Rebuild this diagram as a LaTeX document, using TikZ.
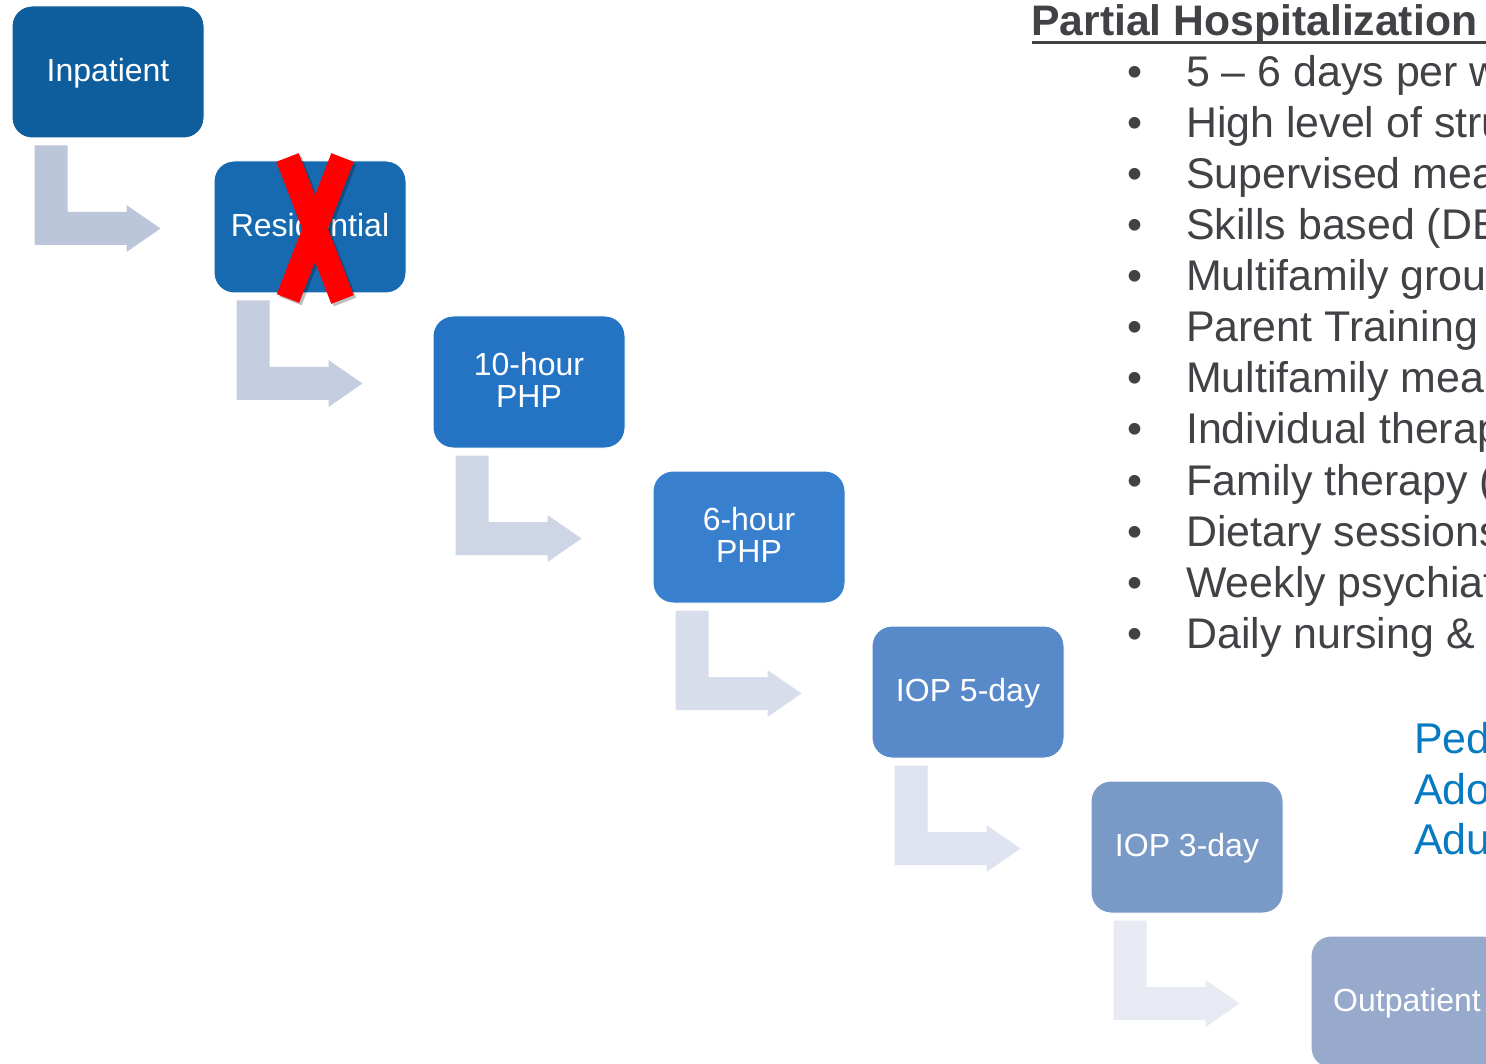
\documentclass[tikz,border=0pt]{standalone}
\usepackage{fontspec}
\setmainfont{Liberation Sans}
\usetikzlibrary{calc}

% level-of-care box fills, darkest (most intensive) first
\definecolor{lvlA}{RGB}{14,94,157}
\definecolor{lvlB}{RGB}{23,106,176}
\definecolor{lvlC}{RGB}{36,116,195}
\definecolor{lvlD}{RGB}{56,128,205}
\definecolor{lvlE}{RGB}{88,138,202}
\definecolor{lvlF}{RGB}{121,153,199}
\definecolor{lvlG}{RGB}{151,170,203}
% step-down arrow fills, fading out
\definecolor{arrA}{RGB}{188,198,219}
\definecolor{arrB}{RGB}{197,205,224}
\definecolor{arrC}{RGB}{206,213,229}
\definecolor{arrD}{RGB}{215,221,235}
\definecolor{arrE}{RGB}{223,227,239}
\definecolor{arrF}{RGB}{231,234,243}
\definecolor{bodytext}{RGB}{64,66,70}
\definecolor{agetext}{RGB}{8,122,193}

\begin{document}
\begin{tikzpicture}[x=1pt,y=-1pt,
  stepbox/.style={draw=white, line width=1pt, rounded corners=20pt,
    minimum width=192pt, minimum height=132pt, inner sep=0pt,
    text=white, align=center, font=\fontsize{32}{32.3}\selectfont,
    text height=22.5pt, text depth=3pt},
  twoline/.style={text height=54.8pt},
  listtext/.style={anchor=base west, inner sep=0pt, text=bodytext,
    font=\fontsize{42.9}{50}\selectfont},
  bulletmark/.style={anchor=base, inner sep=0pt, text=bodytext,
    font=\fontsize{42.9}{50}\selectfont},
  agelabel/.style={anchor=base west, inner sep=0pt, text=agetext,
    font=\fontsize{43}{50}\selectfont}]

\useasboundingbox (0,0) rectangle (1486,1064);
\clip (0,0) rectangle (1486,1064);
\fill[white] (0,0) rectangle (1486,1064);

% ---- levels of care, stepping down to the right ----
\node[stepbox, fill=lvlA] (inp) at (108,72)    {Inpatient};
\node[stepbox, fill=lvlB] (res) at (310,227)   {Residential};
\node[stepbox, twoline, fill=lvlC] (php10) at (529,382) {10-hour\\PHP};
\node[stepbox, twoline, fill=lvlD] (php6) at (749,537)  {6-hour\\PHP};
\node[stepbox, fill=lvlE] (iop5) at (968,692)  {IOP 5-day};
\node[stepbox, fill=lvlF] (iop3) at (1187,847) {IOP 3-day};
\node[stepbox, fill=lvlG] (outp) at (1407,1002) {Outpatient};

% ---- bent arrows from each box down and across to the next ----
\foreach \a/\b/\c in {inp/res/arrA, res/php10/arrB, php10/php6/arrC,
                      php6/iop5/arrD, iop5/iop3/arrE, iop3/outp/arrF}{
  \path ($(\a.south west)+(149,0)$) |- coordinate (tip) ($(\b.west)+(0,1.5)$);
  \fill[\c] ($(\a.south west)+(23,7)$) -- ($(\a.south west)+(56,7)$)
    -- ($(tip)+(-93,-16.5)$) -- ($(tip)+(-34,-16.5)$) -- ($(tip)+(-34,-23.5)$)
    -- (tip) -- ($(tip)+(-34,23.5)$) -- ($(tip)+(-34,16.5)$)
    -- ($(tip)+(-126,16.5)$) -- cycle;
}

% ---- red cross over the residential level ----
\begin{scope}[line width=24pt]
  \draw[black, opacity=0.25] (290,160) -- (345,302);
  \draw[black, opacity=0.25] (345,160) -- (290.5,301);
  \draw[red] (287.5,157.5) -- (342.5,299.5);
  \draw[red] (342.5,157.5) -- (288,298.5);
\end{scope}

% ---- program description ----
\node[anchor=base west, inner sep=0pt, text=bodytext,
      font=\fontsize{42.7}{50}\selectfont\bfseries] (title) at (1031,36)
      {Partial Hospitalization};
\draw[bodytext, line width=3.3pt] (1032,42.3) -- (1490,42.3);

\foreach \t [count=\i from 0] in {5 – 6 days per week, High level of structure,
    Supervised meals, Skills based (DBT, Multifamily groups, Parent Training,
    Multifamily meals, Individual therapy, Family therapy (, Dietary sessions,
    Weekly psychiatry, Daily nursing \&}{
  \node[bulletmark] (dot\i) at (1135,86.2+51.1*\i) {•};
  \node[listtext] (item\i) at (1186,86.2+51.1*\i) {\t};
}

% ---- age groups served ----
\node[agelabel] (ped) at (1414,753) {Pediatric};
\node[agelabel] (ado) at (1414,804) {Adolescent};
\node[agelabel] (adu) at (1414,854) {Adult};

\end{tikzpicture}
\end{document}
